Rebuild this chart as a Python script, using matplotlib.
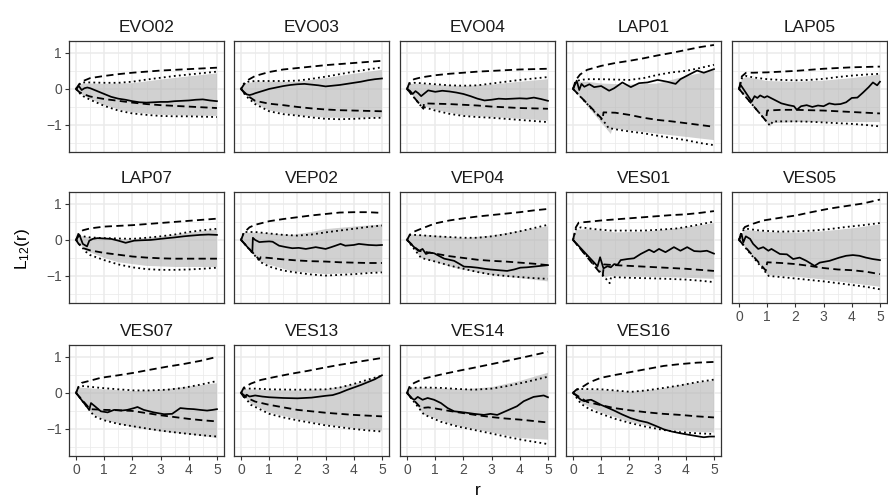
import matplotlib
matplotlib.use("Agg")
import matplotlib.pyplot as plt
from matplotlib.ticker import MultipleLocator

plt.rcParams['font.family'] = ['Liberation Sans', 'DejaVu Sans']
plt.rcParams['mathtext.fontset'] = 'custom'
plt.rcParams['mathtext.rm'] = 'Liberation Sans'
plt.rcParams['mathtext.it'] = 'Liberation Sans:italic'

# plot names, in facet order
sites = ["EVO02", "EVO03", "EVO04", "LAP01", "LAP05",
         "LAP07", "VEP02", "VEP04", "VES01", "VES05",
         "VES07", "VES13", "VES14", "VES16"]

# observed L12(r) - r, as (r, value) pairs
observed = {
    "EVO02": [(0, 0), (0.1, 0.08), (0.2, -0.03), (0.3, 0.02), (0.4, 0.04), (0.5, 0.02), (0.75, -0.06), (1, -0.14),
              (1.25, -0.22), (1.5, -0.27), (1.75, -0.3), (2, -0.34), (2.25, -0.37), (2.5, -0.38), (2.75, -0.37),
              (3, -0.36), (3.25, -0.36), (3.5, -0.34), (3.75, -0.33), (4, -0.32), (4.25, -0.3), (4.5, -0.29),
              (4.75, -0.32), (5, -0.34)],
    "EVO03": [(0, 0), (0.1, -0.08), (0.2, -0.15), (0.3, -0.17), (0.4, -0.15), (0.5, -0.12), (0.75, -0.06), (1, 0.0),
              (1.25, 0.04), (1.5, 0.08), (1.75, 0.11), (2, 0.13), (2.25, 0.14), (2.5, 0.12), (2.75, 0.1), (3, 0.07),
              (3.25, 0.09), (3.5, 0.11), (3.75, 0.14), (4, 0.17), (4.25, 0.2), (4.5, 0.24), (4.75, 0.27), (5, 0.29)],
    "EVO04": [(0, 0), (0.1, -0.05), (0.2, -0.14), (0.3, -0.06), (0.4, -0.12), (0.5, -0.2), (0.75, -0.04), (1, -0.08),
              (1.25, -0.05), (1.5, -0.07), (1.75, -0.1), (2, -0.14), (2.25, -0.2), (2.5, -0.27), (2.75, -0.32),
              (3, -0.3), (3.25, -0.27), (3.5, -0.28), (3.75, -0.27), (4, -0.26), (4.25, -0.27), (4.5, -0.24),
              (4.75, -0.28), (5, -0.33)],
    "LAP01": [(0, 0), (0.13, 0.23), (0.22, -0.03), (0.3, 0.14), (0.4, 0.06), (0.58, 0.13), (0.75, 0.05), (1, 0.08),
              (1.28, -0.05), (1.46, 0.02), (1.75, 0.18), (2.05, 0.05), (2.34, 0.16), (2.64, 0.18), (3, 0.25),
              (3.34, 0.2), (3.64, 0.14), (3.81, 0.27), (4.1, 0.39), (4.4, 0.51), (4.64, 0.45), (5, 0.55)],
    "LAP05": [(0, 0), (0.05, 0.12), (0.45, -0.35), (0.55, -0.2), (0.65, -0.25), (0.75, -0.18), (0.9, -0.24),
              (1, -0.2), (1.25, -0.3), (1.5, -0.4), (1.75, -0.45), (1.95, -0.48), (2.05, -0.58), (2.2, -0.48),
              (2.4, -0.45), (2.6, -0.5), (2.8, -0.46), (3, -0.48), (3.2, -0.4), (3.4, -0.43), (3.6, -0.42),
              (3.8, -0.37), (4, -0.25), (4.2, -0.24), (4.4, -0.1), (4.6, 0.05), (4.75, 0.18), (4.9, 0.1), (5, 0.2)],
    "LAP07": [(0, 0), (0.12, 0.14), (0.24, -0.11), (0.39, -0.18), (0.47, -0.02), (0.6, 0.03), (0.76, 0.05),
              (1, 0.04), (1.24, 0.03), (1.5, -0.02), (1.76, -0.08), (2.06, -0.02), (2.3, -0.01), (2.65, 0.0),
              (3, 0.03), (3.24, 0.05), (3.5, 0.07), (3.82, 0.1), (4.1, 0.12), (4.41, 0.14), (4.7, 0.15), (5, 0.14)],
    "VEP02": [(0, 0), (0.4, -0.35), (0.42, 0.06), (0.5, 0.0), (0.65, -0.06), (0.8, -0.05), (1, -0.04),
              (1.12, -0.05), (1.35, -0.16), (1.6, -0.2), (1.82, -0.23), (2.05, -0.22), (2.3, -0.25), (2.65, -0.2),
              (3, -0.25), (3.2, -0.2), (3.35, -0.16), (3.53, -0.11), (3.7, -0.16), (4, -0.14), (4.18, -0.11),
              (4.53, -0.14), (4.8, -0.15), (5, -0.14)],
    "VEP04": [(0, 0), (0.1, -0.08), (0.25, -0.2), (0.44, -0.3), (0.55, -0.25), (0.67, -0.39), (0.8, -0.35),
              (0.96, -0.37), (1.15, -0.45), (1.32, -0.52), (1.5, -0.55), (1.67, -0.58), (1.85, -0.66), (2.02, -0.74),
              (2.25, -0.75), (2.5, -0.77), (2.75, -0.8), (2.96, -0.82), (3.25, -0.84), (3.55, -0.86), (3.8, -0.82),
              (4.02, -0.77), (4.25, -0.76), (4.5, -0.74), (4.75, -0.72), (5, -0.7)],
    "VES01": [(0, 0), (0.87, -0.73), (0.96, -0.48), (1.08, -0.79), (1.22, -0.73), (1.34, -0.76), (1.46, -0.67),
              (1.58, -0.69), (1.69, -0.56), (1.93, -0.53), (2.16, -0.51), (2.4, -0.39), (2.7, -0.27), (2.87, -0.34),
              (3.05, -0.25), (3.28, -0.34), (3.58, -0.2), (3.81, -0.3), (4.05, -0.2), (4.3, -0.31), (4.52, -0.32),
              (4.75, -0.3), (5, -0.38)],
    "VES05": [(0, 0), (0.09, 0.17), (0.15, -0.07), (0.24, 0.1), (0.39, 0.03), (0.5, -0.11), (0.68, -0.25),
              (0.86, -0.2), (1.04, -0.3), (1.15, -0.25), (1.45, -0.39), (1.7, -0.4), (1.92, -0.53), (2.15, -0.49),
              (2.39, -0.58), (2.68, -0.72), (2.86, -0.63), (3.21, -0.58), (3.56, -0.49), (3.8, -0.44), (4.04, -0.42),
              (4.27, -0.44), (4.5, -0.49), (4.74, -0.53), (5, -0.56)],
    "VES07": [(0, 0), (0.47, -0.47), (0.53, -0.28), (0.7, -0.39), (0.88, -0.51), (1.12, -0.54), (1.35, -0.47),
              (1.6, -0.49), (1.82, -0.47), (2.06, -0.42), (2.18, -0.39), (2.4, -0.47), (2.76, -0.54), (3.12, -0.59),
              (3.41, -0.58), (3.7, -0.42), (3.95, -0.44), (4.18, -0.45), (4.4, -0.47), (4.65, -0.49), (4.85, -0.47),
              (5, -0.45)],
    "VES13": [(0, 0), (0.1, -0.12), (0.2, -0.05), (0.3, -0.1), (0.5, -0.07), (0.75, -0.1), (1, -0.12),
              (1.5, -0.14), (2, -0.15), (2.5, -0.13), (3, -0.08), (3.25, -0.06), (3.5, 0.0), (3.75, 0.08), (4, 0.15),
              (4.25, 0.22), (4.5, 0.3), (4.75, 0.38), (5, 0.49)],
    "VES14": [(0, 0), (0.14, -0.14), (0.26, -0.19), (0.38, -0.11), (0.55, -0.19), (0.73, -0.14), (0.96, -0.19),
              (1.2, -0.28), (1.44, -0.42), (1.67, -0.51), (2.02, -0.54), (2.38, -0.58), (2.73, -0.61), (2.96, -0.58),
              (3.2, -0.61), (3.55, -0.49), (3.9, -0.37), (4.14, -0.23), (4.49, -0.11), (4.85, -0.07), (5, -0.12)],
    "VES16": [(0, 0), (0.28, -0.19), (0.4, -0.23), (0.52, -0.2), (0.64, -0.19), (0.8, -0.25), (0.99, -0.33),
              (1.2, -0.4), (1.46, -0.49), (1.75, -0.6), (2.05, -0.7), (2.35, -0.77), (2.64, -0.82), (2.95, -0.92),
              (3.22, -1.01), (3.5, -1.07), (3.81, -1.12), (4.1, -1.16), (4.4, -1.2), (4.64, -1.23), (4.85, -1.21),
              (5, -1.21)],
}

# upper / lower dashed envelopes
dash_hi = {
    "EVO02": [(0, 0), (0.1, 0.12), (0.25, 0.22), (0.5, 0.3), (1, 0.36), (1.5, 0.41), (2, 0.45), (2.5, 0.48), (3, 0.51), (3.5, 0.53), (4, 0.55), (4.5, 0.57), (5, 0.59)],
    "EVO03": [(0, 0), (0.1, 0.12), (0.25, 0.25), (0.5, 0.36), (1, 0.47), (1.5, 0.54), (2, 0.58), (2.5, 0.62), (3, 0.66), (3.5, 0.69), (4, 0.72), (4.5, 0.75), (5, 0.78)],
    "EVO04": [(0, 0), (0.1, 0.2), (0.25, 0.27), (0.5, 0.32), (1, 0.38), (1.5, 0.42), (2, 0.45), (2.5, 0.48), (3, 0.5), (3.5, 0.52), (4, 0.54), (4.5, 0.55), (5, 0.56)],
    "LAP01": [(0, 0), (0.1, 0.25), (0.25, 0.4), (0.5, 0.53), (1, 0.64), (1.5, 0.72), (2, 0.78), (2.5, 0.85), (3, 0.93), (3.5, 1.0), (4, 1.08), (4.5, 1.16), (5, 1.22)],
    "LAP05": [(0, 0), (0.1, 0.35), (0.25, 0.45), (0.5, 0.45), (1, 0.46), (1.5, 0.48), (2, 0.5), (2.5, 0.53), (3, 0.56), (3.5, 0.58), (4, 0.6), (4.5, 0.61), (5, 0.62)],
    "LAP07": [(0, 0), (0.1, 0.2), (0.25, 0.27), (0.5, 0.32), (1, 0.37), (1.5, 0.39), (2, 0.41), (2.5, 0.44), (3, 0.47), (3.5, 0.5), (4, 0.53), (4.5, 0.56), (5, 0.59)],
    "VEP02": [(0, 0), (0.1, 0.2), (0.3, 0.35), (0.5, 0.42), (1, 0.52), (1.5, 0.58), (2, 0.63), (2.5, 0.68), (3, 0.72), (3.5, 0.76), (4, 0.77), (4.5, 0.77), (5, 0.75)],
    "VEP04": [(0, 0), (0.1, 0.15), (0.25, 0.23), (0.5, 0.31), (1, 0.46), (1.5, 0.54), (2, 0.6), (2.5, 0.65), (3, 0.69), (3.5, 0.73), (4, 0.77), (4.5, 0.82), (5, 0.86)],
    "VES01": [(0, 0), (0.1, 0.35), (0.2, 0.48), (0.5, 0.5), (1, 0.54), (1.5, 0.57), (2, 0.6), (2.5, 0.63), (3, 0.66), (3.5, 0.69), (4, 0.71), (4.5, 0.75), (5, 0.8)],
    "VES05": [(0, 0), (0.1, 0.25), (0.21, 0.36), (0.5, 0.45), (0.86, 0.54), (1.5, 0.62), (2.03, 0.68), (2.5, 0.76), (3.21, 0.87), (3.8, 0.94), (4.39, 1.01), (5, 1.12)],
    "VES07": [(0, 0), (0.1, 0.2), (0.2, 0.28), (0.5, 0.34), (0.88, 0.42), (1.5, 0.49), (2.06, 0.56), (2.6, 0.64), (3.24, 0.73), (3.8, 0.8), (4.41, 0.89), (5, 1.0)],
    "VES13": [(0, 0), (0.1, 0.15), (0.35, 0.26), (0.7, 0.36), (1.18, 0.44), (1.76, 0.53), (2.35, 0.61), (2.94, 0.7), (3.5, 0.78), (4.12, 0.86), (4.6, 0.92), (5, 0.97)],
    "VES14": [(0, 0), (0.1, 0.2), (0.26, 0.28), (0.6, 0.4), (1.2, 0.51), (1.8, 0.61), (2.38, 0.7), (3, 0.8), (3.55, 0.89), (4.2, 1.0), (5, 1.14)],
    "VES16": [(0, 0), (0.1, 0.08), (0.28, 0.14), (0.6, 0.3), (0.99, 0.42), (1.5, 0.5), (2.05, 0.58), (2.6, 0.66), (3.22, 0.75), (3.8, 0.8), (4.4, 0.84), (5, 0.86)],
}
dash_lo = {
    "EVO02": [(0, 0), (0.1, -0.08), (0.25, -0.14), (0.5, -0.21), (1, -0.28), (1.5, -0.33), (2, -0.38), (2.5, -0.42), (3, -0.45), (3.5, -0.47), (4, -0.49), (4.5, -0.51), (5, -0.53)],
    "EVO03": [(0, 0), (0.1, -0.1), (0.25, -0.2), (0.5, -0.33), (1, -0.41), (1.5, -0.45), (2, -0.5), (2.5, -0.54), (3, -0.57), (3.5, -0.59), (4, -0.6), (4.5, -0.61), (5, -0.62)],
    "EVO04": [(0, 0), (0.58, -0.55), (0.6, -0.4), (1, -0.41), (1.5, -0.42), (2, -0.44), (2.5, -0.46), (3, -0.49), (3.5, -0.51), (4, -0.53), (4.5, -0.54), (5, -0.55)],
    "LAP01": [(0, 0), (1.05, -0.85), (1.08, -0.65), (1.5, -0.66), (2, -0.72), (2.5, -0.8), (3, -0.86), (3.5, -0.9), (4, -0.95), (4.5, -1.0), (5, -1.05)],
    "LAP05": [(0, 0), (0.95, -0.88), (1.0, -0.6), (1.5, -0.58), (2, -0.58), (2.5, -0.59), (3, -0.6), (3.5, -0.62), (4, -0.64), (4.5, -0.66), (5, -0.68)],
    "LAP07": [(0, 0), (0.1, -0.12), (0.3, -0.24), (0.5, -0.29), (1, -0.36), (1.5, -0.41), (2, -0.46), (2.5, -0.49), (3, -0.51), (3.5, -0.52), (4, -0.52), (4.5, -0.52), (5, -0.52)],
    "VEP02": [(0, 0), (0.65, -0.55), (0.7, -0.48), (1, -0.5), (1.5, -0.54), (2, -0.57), (2.5, -0.59), (3, -0.6), (3.5, -0.62), (4, -0.63), (4.5, -0.64), (5, -0.64)],
    "VEP04": [(0, 0), (0.4, -0.3), (1, -0.38), (1.5, -0.45), (2, -0.5), (2.5, -0.55), (3, -0.58), (3.5, -0.6), (4, -0.63), (4.5, -0.66), (5, -0.7)],
    "VES01": [(0, 0), (1.05, -1.0), (1.1, -0.68), (1.5, -0.7), (2, -0.72), (2.5, -0.74), (3, -0.76), (3.5, -0.78), (4, -0.8), (4.5, -0.83), (5, -0.86)],
    "VES05": [(0, 0), (0.95, -0.85), (1.0, -0.62), (1.5, -0.64), (2, -0.67), (2.5, -0.72), (3, -0.78), (3.5, -0.82), (4, -0.84), (4.5, -0.88), (5, -0.95)],
    "VES07": [(0, 0), (0.5, -0.45), (1, -0.47), (1.5, -0.48), (2, -0.5), (2.5, -0.56), (3, -0.62), (3.5, -0.67), (4, -0.72), (4.5, -0.76), (5, -0.79)],
    "VES13": [(0, 0), (0.25, -0.15), (0.5, -0.24), (1, -0.33), (1.5, -0.4), (2, -0.47), (2.5, -0.51), (3, -0.55), (3.5, -0.58), (4, -0.61), (4.5, -0.63), (5, -0.65)],
    "VES14": [(0, 0), (0.5, -0.42), (0.75, -0.4), (1, -0.43), (1.5, -0.5), (2, -0.56), (2.5, -0.62), (3, -0.67), (3.5, -0.71), (4, -0.74), (4.5, -0.78), (5, -0.82)],
    "VES16": [(0, 0), (0.5, -0.25), (1, -0.34), (1.46, -0.42), (2, -0.48), (2.64, -0.54), (3.2, -0.58), (3.81, -0.61), (4.4, -0.65), (5, -0.68)],
}

# upper / lower dotted envelopes
dot_hi = {
    "EVO02": [(0, 0), (0.1, 0.12), (0.25, 0.18), (0.5, 0.18), (1, 0.17), (1.5, 0.17), (2, 0.2), (2.5, 0.26), (3, 0.31), (3.5, 0.36), (4, 0.4), (4.5, 0.44), (5, 0.48)],
    "EVO03": [(0, 0), (0.1, 0.15), (0.25, 0.2), (0.5, 0.22), (1, 0.22), (1.5, 0.22), (2, 0.23), (2.5, 0.28), (3, 0.34), (3.5, 0.41), (4, 0.48), (4.5, 0.54), (5, 0.6)],
    "EVO04": [(0, 0), (0.1, 0.15), (0.25, 0.17), (0.5, 0.16), (1, 0.13), (1.5, 0.1), (2, 0.09), (2.5, 0.1), (3, 0.15), (3.5, 0.2), (4, 0.25), (4.5, 0.29), (5, 0.33)],
    "LAP01": [(0, 0), (0.1, 0.2), (0.25, 0.25), (0.5, 0.27), (1, 0.27), (1.5, 0.26), (2, 0.25), (2.5, 0.3), (3, 0.39), (3.5, 0.46), (4, 0.5), (4.5, 0.58), (5, 0.67)],
    "LAP05": [(0, 0), (0.1, 0.3), (0.25, 0.36), (0.5, 0.32), (1, 0.27), (1.5, 0.25), (2, 0.24), (2.5, 0.25), (3, 0.28), (3.5, 0.33), (4, 0.37), (4.5, 0.4), (5, 0.42)],
    "LAP07": [(0, 0), (0.1, 0.12), (0.25, 0.1), (0.5, 0.07), (1, 0.05), (1.5, 0.04), (2, 0.03), (2.5, 0.06), (3, 0.1), (3.5, 0.15), (4, 0.22), (4.5, 0.27), (5, 0.31)],
    "VEP02": [(0, 0), (0.1, 0.22), (0.5, 0.22), (1, 0.18), (1.5, 0.14), (2, 0.12), (2.5, 0.15), (3, 0.21), (3.5, 0.26), (4, 0.31), (4.5, 0.36), (5, 0.4)],
    "VEP04": [(0, 0), (0.1, 0.14), (0.25, 0.14), (0.5, 0.13), (1, 0.1), (1.5, 0.08), (2, 0.06), (2.5, 0.06), (3, 0.1), (3.5, 0.16), (4, 0.24), (4.5, 0.33), (5, 0.42)],
    "VES01": [(0, 0), (0.1, 0.3), (0.28, 0.35), (0.75, 0.3), (1.34, 0.26), (2, 0.26), (2.5, 0.26), (3, 0.28), (3.7, 0.32), (4.3, 0.4), (5, 0.51)],
    "VES05": [(0, 0), (0.1, 0.25), (0.27, 0.31), (0.75, 0.26), (1.45, 0.23), (2, 0.24), (2.62, 0.26), (3.2, 0.3), (3.8, 0.36), (4.4, 0.41), (5, 0.47)],
    "VES07": [(0, 0), (0.1, 0.17), (0.25, 0.19), (0.88, 0.14), (1.5, 0.1), (2.06, 0.07), (2.6, 0.07), (3.24, 0.09), (3.8, 0.14), (4.41, 0.23), (5, 0.33)],
    "VES13": [(0, 0), (0.1, 0.12), (0.5, 0.12), (1, 0.1), (2, 0.09), (3, 0.1), (3.5, 0.15), (4, 0.25), (4.5, 0.37), (5, 0.48)],
    "VES14": [(0, 0), (0.14, 0.14), (0.6, 0.15), (1.2, 0.14), (1.8, 0.11), (2.38, 0.09), (3, 0.12), (3.55, 0.19), (4.2, 0.3), (5, 0.45)],
    "VES16": [(0, 0), (0.1, 0.1), (0.28, 0.11), (1, 0.1), (1.46, 0.07), (2.05, 0.03), (2.6, 0.07), (3.22, 0.14), (3.8, 0.21), (4.4, 0.3), (5, 0.37)],
}
dot_lo = {
    "EVO02": [(0, 0), (0.1, -0.1), (0.25, -0.2), (0.5, -0.3), (1, -0.47), (1.5, -0.6), (2, -0.68), (2.5, -0.72), (3, -0.75), (3.5, -0.76), (4, -0.76), (4.5, -0.77), (5, -0.78)],
    "EVO03": [(0, 0), (0.1, -0.12), (0.25, -0.25), (0.5, -0.42), (1, -0.62), (1.5, -0.7), (2, -0.74), (2.5, -0.79), (3, -0.83), (3.5, -0.84), (4, -0.83), (4.5, -0.81), (5, -0.8)],
    "EVO04": [(0, 0), (0.5, -0.48), (1, -0.6), (1.5, -0.69), (2, -0.75), (2.5, -0.78), (3, -0.8), (3.5, -0.83), (4, -0.86), (4.5, -0.89), (5, -0.92)],
    "LAP01": [(0, 0), (1.2, -1.0), (1.25, -1.08), (1.5, -1.12), (2, -1.18), (2.5, -1.23), (3, -1.3), (3.5, -1.36), (4, -1.42), (4.5, -1.5), (5, -1.56)],
    "LAP05": [(0, 0), (1.1, -1.02), (1.2, -0.9), (1.5, -0.9), (2, -0.9), (2.5, -0.91), (3, -0.93), (3.5, -0.95), (4, -0.97), (4.5, -1.0), (5, -1.04)],
    "LAP07": [(0, 0), (0.35, -0.33), (0.5, -0.42), (1, -0.56), (1.5, -0.68), (2, -0.76), (2.5, -0.81), (3, -0.83), (3.5, -0.83), (4, -0.82), (4.5, -0.8), (5, -0.77)],
    "VEP02": [(0, 0), (0.7, -0.62), (1, -0.74), (1.5, -0.85), (2, -0.91), (2.5, -0.96), (3, -0.99), (3.5, -0.97), (4, -0.95), (4.5, -0.92), (5, -0.9)],
    "VEP04": [(0, 0), (0.5, -0.5), (1, -0.6), (1.5, -0.71), (2, -0.8), (2.5, -0.89), (3, -0.96), (3.5, -1.0), (4, -1.03), (4.5, -1.06), (5, -1.08)],
    "VES01": [(0, 0), (1.3, -1.2), (1.35, -1.03), (2, -1.05), (3, -1.07), (4, -1.1), (4.5, -1.13), (5, -1.17)],
    "VES05": [(0, 0), (1.05, -1.0), (1.5, -1.03), (2, -1.07), (2.5, -1.11), (3, -1.15), (3.5, -1.2), (4, -1.25), (4.5, -1.3), (5, -1.37)],
    "VES07": [(0, 0), (0.65, -0.65), (1, -0.76), (1.5, -0.86), (2.06, -0.93), (2.6, -1.0), (3.24, -1.07), (3.8, -1.12), (4.41, -1.17), (5, -1.21)],
    "VES13": [(0, 0), (0.35, -0.33), (1, -0.58), (1.5, -0.68), (2, -0.76), (2.5, -0.83), (3, -0.9), (3.5, -0.95), (4, -1.0), (4.5, -1.04), (5, -1.07)],
    "VES14": [(0, 0), (0.6, -0.6), (1.2, -0.8), (1.79, -0.93), (2.4, -1.03), (2.96, -1.12), (3.55, -1.22), (4.14, -1.31), (5, -1.42)],
    "VES16": [(0, 0), (0.28, -0.3), (0.6, -0.46), (0.99, -0.58), (1.5, -0.72), (2.05, -0.84), (2.6, -0.94), (3.22, -1.03), (3.8, -1.09), (4.4, -1.12), (5, -1.14)],
}

# shaded band, upper and lower edges
band_hi = {
    "EVO02": [(0, 0), (0.1, 0.1), (0.25, 0.15), (0.5, 0.15), (1, 0.14), (2, 0.16), (3, 0.26), (4, 0.35), (5, 0.43)],
    "EVO03": [(0, 0), (0.1, 0.14), (0.5, 0.2), (1, 0.2), (2, 0.2), (3, 0.3), (4, 0.42), (5, 0.53)],
    "EVO04": [(0, 0), (0.1, 0.14), (0.5, 0.14), (1, 0.11), (2, 0.08), (3, 0.12), (4, 0.2), (5, 0.27)],
    "LAP01": [(0, 0), (0.1, 0.2), (0.5, 0.2), (1, 0.15), (2, 0.12), (3, 0.15), (4, 0.35), (5, 0.52)],
    "LAP05": [(0, 0), (0.1, 0.28), (0.25, 0.33), (1, 0.22), (2, 0.2), (3, 0.23), (4, 0.3), (5, 0.4)],
    "LAP07": [(0, 0), (0.1, 0.12), (0.5, 0.06), (1, 0.03), (2, 0.02), (3, 0.09), (4, 0.2), (5, 0.29)],
    "VEP02": [(0, 0), (0.1, 0.2), (0.6, 0.2), (1.8, 0.14), (2.5, 0.22), (3, 0.3), (4, 0.37), (5, 0.43)],
    "VEP04": [(0, 0), (0.1, 0.15), (1, 0.12), (2, 0.05), (3, 0.12), (4, 0.25), (5, 0.38)],
    "VES01": [(0, 0), (0.1, 0.28), (0.5, 0.3), (1.5, 0.21), (2.5, 0.23), (3.5, 0.3), (4.3, 0.38), (5, 0.47)],
    "VES05": [(0, 0), (0.2, 0.28), (1, 0.22), (2, 0.2), (3, 0.24), (4, 0.32), (5, 0.43)],
    "VES07": [(0, 0), (0.1, 0.15), (1, 0.1), (2, 0.05), (3, 0.08), (4, 0.18), (5, 0.27)],
    "VES13": [(0, 0), (0.1, 0.1), (1, 0.08), (2, 0.07), (3, 0.1), (4, 0.24), (5, 0.48)],
    "VES14": [(0, 0), (0.1, 0.15), (1, 0.13), (2, 0.1), (3, 0.16), (4, 0.33), (5, 0.56)],
    "VES16": [(0, 0), (0.1, 0.1), (1, 0.08), (2, 0.03), (3, 0.1), (4, 0.25), (5, 0.35)],
}
band_lo = {
    "EVO02": [(0, 0), (0.25, -0.18), (0.5, -0.28), (1, -0.45), (1.5, -0.57), (2, -0.65), (3, -0.72), (4, -0.74), (5, -0.75)],
    "EVO03": [(0, 0), (0.25, -0.24), (0.5, -0.4), (1, -0.6), (2, -0.73), (3, -0.8), (4, -0.8), (5, -0.78)],
    "EVO04": [(0, 0), (0.5, -0.45), (1, -0.58), (2, -0.73), (3, -0.78), (4, -0.83), (5, -0.88)],
    "LAP01": [(0, 0), (1.34, -1.25), (1.4, -1.1), (2, -1.15), (3, -1.24), (4, -1.33), (5, -1.42)],
    "LAP05": [(0, 0), (1.1, -1.05), (1.2, -0.95), (2, -0.92), (3, -0.92), (4, -0.92), (5, -0.92)],
    "LAP07": [(0, 0), (0.35, -0.3), (1, -0.5), (1.5, -0.62), (2.5, -0.72), (3.5, -0.75), (5, -0.75)],
    "VEP02": [(0, 0), (0.7, -0.62), (1.8, -0.87), (3, -0.95), (4, -0.92), (5, -0.88)],
    "VEP04": [(0, 0), (0.5, -0.5), (1.8, -0.8), (3, -0.98), (4, -1.06), (5, -1.15)],
    "VES01": [(0, 0), (1.15, -1.05), (1.3, -1.0), (2, -1.02), (3, -1.03), (4, -1.05), (5, -1.08)],
    "VES05": [(0, 0), (1.05, -1.0), (1.1, -0.98), (2, -1.02), (3, -1.1), (4, -1.2), (5, -1.3)],
    "VES07": [(0, 0), (0.6, -0.6), (1, -0.75), (2, -0.95), (3, -1.07), (4, -1.15), (5, -1.25)],
    "VES13": [(0, 0), (0.35, -0.3), (1, -0.55), (2, -0.73), (3, -0.88), (4, -0.98), (5, -1.05)],
    "VES14": [(0, 0), (0.6, -0.6), (1.8, -0.92), (3, -1.1), (4, -1.25), (5, -1.3)],
    "VES16": [(0, 0), (0.3, -0.28), (1, -0.55), (2, -0.8), (3, -0.98), (4, -1.07), (5, -1.1)],
}

# facet grid geometry (pixels)
W, H = 888, 498
col_left = [69, 234, 400, 566, 732]
row_top = [41, 192, 345]
pw, ph = 155, 111

fig = plt.figure(figsize=(W / 100, H / 100), dpi=100)

dash_style = (0, (4, 2.4))
dot_style = (0, (1, 1.8))


def split(curve):
    return [p[0] for p in curve], [p[1] for p in curve]


n = len(sites)
for i, name in enumerate(sites):
    row, col = divmod(i, 5)
    ax = fig.add_axes([col_left[col] / W, 1 - (row_top[row] + ph) / H, pw / W, ph / H])

    # band polygon: upper edge out, lower edge back
    hx, hy = split(band_hi[name])
    lx, ly = split(band_lo[name])
    ax.fill(hx + lx[::-1], hy + ly[::-1], color='#b3b3b3', alpha=0.6, lw=0, zorder=1)

    for env in (dot_hi, dot_lo):
        x, y = split(env[name])
        ax.plot(x, y, color='black', lw=1.3, linestyle=dot_style, zorder=2)
    for env in (dash_hi, dash_lo):
        x, y = split(env[name])
        ax.plot(x, y, color='black', lw=1.3, linestyle=dash_style, zorder=3)
    x, y = split(observed[name])
    ax.plot(x, y, color='black', lw=1.25, zorder=4)

    ax.set_xlim(-0.25, 5.25)
    ax.set_ylim(-1.75, 1.33)
    ax.xaxis.set_major_locator(MultipleLocator(1))
    ax.xaxis.set_minor_locator(MultipleLocator(0.5))
    ax.yaxis.set_major_locator(MultipleLocator(1))
    ax.yaxis.set_minor_locator(MultipleLocator(0.5))
    ax.set_axisbelow(True)
    ax.grid(which='major', color='#ebebeb', lw=1.1)
    ax.grid(which='minor', color='#ebebeb', lw=0.55)
    for sp in ax.spines.values():
        sp.set_color('#333333')
        sp.set_linewidth(0.9)
    ax.tick_params(which='minor', length=0)
    ax.tick_params(which='major', color='#333333', width=0.8, length=3,
                   labelsize=10, labelcolor='#4d4d4d', pad=2)

    show_x = (row == 2) or (i + 5 >= n)
    show_y = (col == 0)
    if not show_x:
        ax.tick_params(axis='x', length=0, labelbottom=False)
    if not show_y:
        ax.tick_params(axis='y', length=0, labelleft=False)

    ax.text(0.5, 1 + 9 / ph, name, transform=ax.transAxes, ha='center', va='baseline',
            fontsize=12.5, color='#1a1a1a')

fig.text(22 / W, 1 - 249 / H, r'$\mathregular{L_{12}(r)}$', rotation=90, ha='center', va='center',
         fontsize=12.5, color='black')
fig.text(478 / W, 1 - 495 / H, 'r', ha='center', va='baseline', fontsize=12.5, color='black')

fig.savefig('out.png', dpi=100)
